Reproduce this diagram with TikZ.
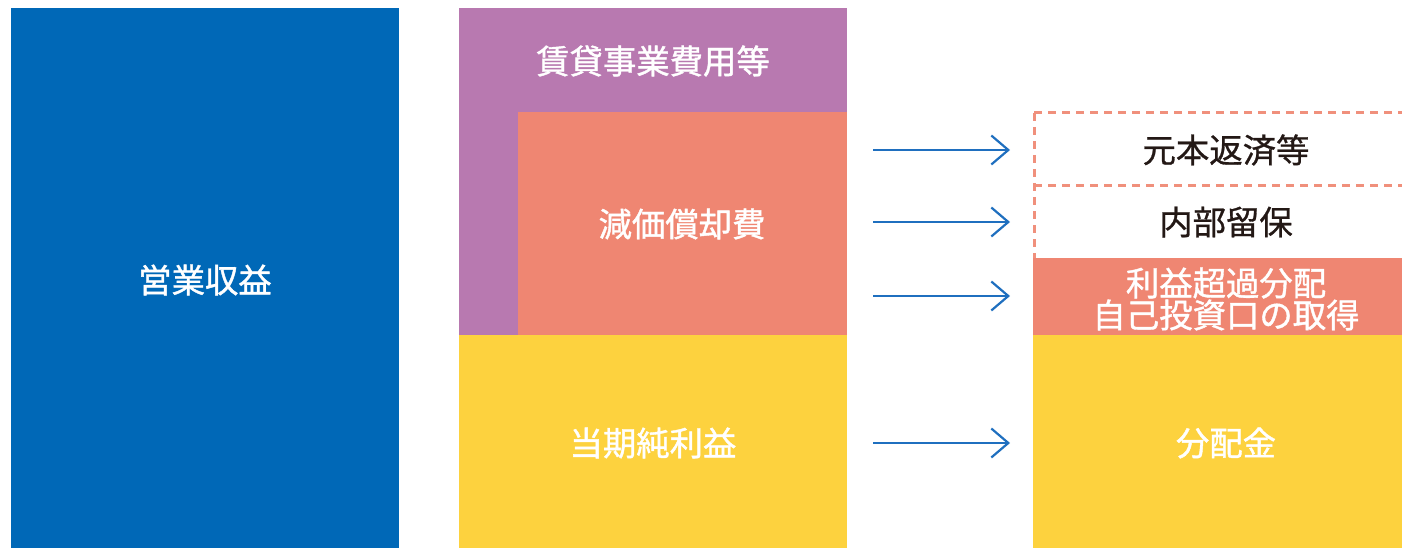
\documentclass[tikz,border=0pt]{standalone}
\usepackage{fontspec}
\newfontfamily\cjkw[FakeBold=1.2]{Noto Sans CJK JP}
\newfontfamily\cjkk[FakeBold=0.8]{Noto Sans CJK JP}
\usetikzlibrary{arrows.meta}
\definecolor{cblue}{HTML}{0068B7}
\definecolor{cpurple}{HTML}{B879B0}
\definecolor{csalmon}{HTML}{EF8672}
\definecolor{cyellow}{HTML}{FDD23E}
\definecolor{carrow}{HTML}{1F6FBF}
\definecolor{cdash}{HTML}{F0907C}
\definecolor{ctext}{HTML}{231815}
\tikzset{
  blk/.style={anchor=north west, inner sep=0pt, outer sep=0pt},
  wlabel/.style={font=\cjkw\fontsize{33.5}{30}\selectfont, text=white, align=center, inner sep=0pt},
  klabel/.style={font=\cjkk\fontsize{33.5}{30}\selectfont, text=ctext, align=center, inner sep=0pt},
  flow/.style={draw=carrow, line width=2.2bp, -{Straight Barb[length=17bp,width=29bp,line width=2.2bp]}},
  dashline/.style={draw=cdash, line width=3bp, dash pattern=on 8bp off 6bp}
}
\begin{document}
\begin{tikzpicture}[x=1bp,y=-1bp]
\useasboundingbox (0,0) rectangle (1402,548);
% left
\node[blk, fill=cblue, minimum width=388bp, minimum height=540bp] (rev) at (11,8) {};
\node[wlabel] (revt) at (205,280) {営業収益};
% middle
\node[blk, fill=cpurple, minimum width=388bp, minimum height=327bp] (cost) at (459,8) {};
\node[blk, fill=csalmon, minimum width=329bp, minimum height=223bp] (dep) at (518,112) {};
\node[blk, fill=cyellow, minimum width=388bp, minimum height=213bp] (ni) at (459,335) {};
\node[wlabel] (costt) at (653,61) {賃貸事業費用等};
\node[wlabel] (dept) at (682,224) {減価償却費};
\node[wlabel] (nit) at (653,443) {当期純利益};
% right
\node[blk, fill=csalmon, minimum width=369bp, minimum height=77bp] (exc) at (1033,258) {};
\node[blk, fill=cyellow, minimum width=369bp, minimum height=213bp] (div) at (1033,335) {};
\coordinate (dtl) at (1034,113);
\coordinate (dtr) at (1402,113);
\coordinate (dml) at (1034,186);
\coordinate (dmr) at (1402,186);
\coordinate (dbl) at (1034,258);
\draw[dashline] (dtl) -- (dtr);
\draw[dashline] (dml) -- (dmr);
\draw[dashline] (dtl) -- (dbl);
\node[klabel] (repay) at (1226,150) {元本返済等};
\node[klabel] (retain) at (1226,222) {内部留保};
\node[wlabel] (exct) at (1226,299) {利益超過分配\\自己投資口の取得};
\node[wlabel] (divt) at (1226,443) {分配金};
% arrows
\foreach \y/\n in {150/a,222/b,296/c,443/d}{
  \coordinate (s\n) at (873,\y);
  \coordinate (e\n) at (1010,\y);
  \draw[flow] (s\n) -- (e\n);
}
\end{tikzpicture}
\end{document}
